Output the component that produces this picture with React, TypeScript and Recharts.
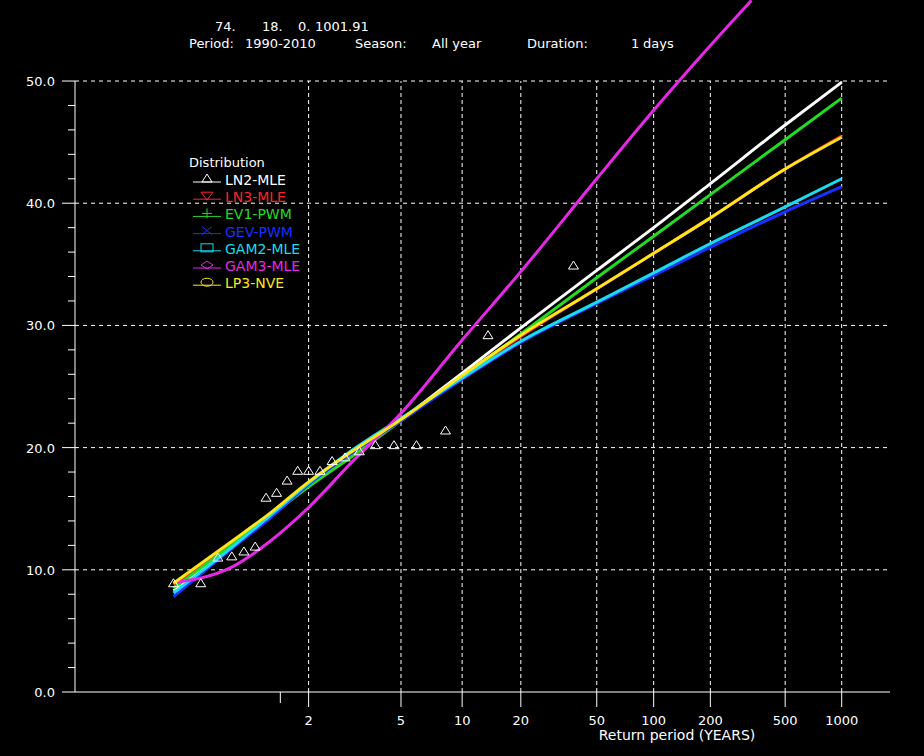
import React from 'react';
import { ComposedChart, Line, Scatter, XAxis, YAxis, ReferenceLine } from 'recharts';

const curvePeriods = [1.027, 1.2, 1.5, 2, 3, 5, 10, 20, 50, 100, 200, 500, 1000];
const ln2Mle = [8.3, 11.9, 14.4, 16.9, 19.6, 22.3, 26.1, 29.8, 34.5, 38.0, 41.6, 46.4, 49.9];
const ln3Mle = [8.8, 12.2, 14.6, 17.0, 19.6, 22.2, 25.8, 29.1, 33.0, 35.9, 38.8, 42.8, 45.5];
const ev1Pwm = [8.5, 12.0, 14.5, 16.8, 19.3, 22.2, 25.8, 29.3, 33.9, 37.3, 40.7, 45.2, 48.6];
const gevPwm = [7.8, 11.7, 14.3, 17.0, 19.6, 22.2, 25.6, 28.6, 31.8, 34.1, 36.4, 39.3, 41.35];
const gam2Mle = [8.1, 11.8, 14.5, 17.1, 19.8, 22.4, 25.7, 28.7, 31.9, 34.3, 36.7, 39.7, 42.0];
const lp3Nve = [8.9, 12.3, 14.7, 17.2, 19.7, 22.3, 25.9, 29.2, 33.0, 35.9, 38.8, 42.8, 45.4];

// GAM3 runs off the top of the picture near T = 330
const gam3Periods = [1.027, 1.2, 1.5, 2, 3, 5, 10, 20, 50, 100, 200, 331];
const gam3Mle = [8.95, 10.2, 12.4, 15.1, 18.85, 22.8, 28.8, 34.4, 42.0, 47.6, 52.9, 56.6];

// observed annual maxima (plotting positions)
const obsPeriods = [1.027, 1.08, 1.138, 1.203, 1.275, 1.357, 1.451, 1.558, 1.682, 1.827, 2.0,
  2.209, 2.467, 2.794, 3.219, 3.799, 4.632, 5.933, 8.25, 13.54, 37.71];
const obsValues = [8.9, 8.9, 11.0, 11.1, 11.5, 11.9, 15.9, 16.3, 17.3, 18.1, 18.1,
  18.1, 18.9, 19.2, 19.7, 20.2, 20.2, 20.2, 21.4, 29.2, 34.9];

const xTickPeriods = [1.6, 2, 5, 10, 20, 50, 100, 200, 500, 1000];
const xTickLabels = ['', '2', '5', '10', '20', '50', '100', '200', '500', '1000'];
const yTicks = [0, 2, 4, 6, 8, 10, 12, 14, 16, 18, 20, 22, 24, 26, 28, 30, 32, 34, 36, 38, 40, 42, 44, 46, 48, 50];
const yGrid = [10, 20, 30, 40, 50];

const FONT = '"DejaVu Sans", sans-serif';

// Gumbel reduced variate -> the probability paper x scale
const gumbel = (T: number) => -Math.log(-Math.log(1 - 1 / T));

const toPoints = (periods: number[], values: number[]) =>
  periods.map((T, i) => ({ x: gumbel(T), y: values[i] }));

const series = [
  { name: 'LN2-MLE', color: '#ffffff', data: toPoints(curvePeriods, ln2Mle), mark: 'tri' },
  { name: 'LN3-MLE', color: '#ff2424', data: toPoints(curvePeriods, ln3Mle), mark: 'itri' },
  { name: 'EV1-PWM', color: '#22dc22', data: toPoints(curvePeriods, ev1Pwm), mark: 'plus' },
  { name: 'GEV-PWM', color: '#1830ff', data: toPoints(curvePeriods, gevPwm), mark: 'cross' },
  { name: 'GAM2-MLE', color: '#18dcf0', data: toPoints(curvePeriods, gam2Mle), mark: 'square' },
  { name: 'GAM3-MLE', color: '#e628e6', data: toPoints(gam3Periods, gam3Mle), mark: 'diamond' },
  { name: 'LP3-NVE', color: '#ffe618', data: toPoints(curvePeriods, lp3Nve), mark: 'circle' },
];

const observed = toPoints(obsPeriods, obsValues);
const xTickValues = xTickPeriods.map(gumbel);

const XTick = (props: any) => {
  const { x, y, index } = props;
  const label = xTickLabels[index];
  return (
    <g>
      <line x1={x} x2={x} y1={y} y2={y + (label ? 15 : 11)} stroke="#fff" />
      {label && (
        <text x={x} y={y + 33} textAnchor="middle" fill="#fff" fontSize={13} fontFamily={FONT}>
          {label}
        </text>
      )}
    </g>
  );
};

const YTick = (props: any) => {
  const { x, y, payload } = props;
  const major = payload.value % 10 === 0;
  return (
    <g>
      <line x1={x - (major ? 13 : 7)} x2={x} y1={y} y2={y} stroke="#fff" />
      {major && (
        <text x={x - 20} y={y + 5} textAnchor="end" fill="#fff" fontSize={13} fontFamily={FONT}>
          {payload.value.toFixed(1)}
        </text>
      )}
    </g>
  );
};

const Triangle = (props: any) => {
  const { cx, cy } = props;
  return (
    <path d={`M${cx},${cy - 4.5} L${cx + 5},${cy + 3.5} L${cx - 5},${cy + 3.5} Z`}
      fill="none" stroke="#fff" strokeWidth={1} />
  );
};

const Marker = ({ kind, x, y, color }: { kind: string; x: number; y: number; color: string }) => {
  const p = { fill: 'none', stroke: color, strokeWidth: 1 };
  switch (kind) {
    case 'tri':
      return <path d={`M${x},${y - 5} L${x + 5},${y + 3} L${x - 5},${y + 3} Z`} {...p} />;
    case 'itri':
      return <path d={`M${x - 6},${y - 4} L${x + 6},${y - 4} L${x},${y + 4} Z`} {...p} />;
    case 'plus':
      return <path d={`M${x - 5},${y} L${x + 5},${y} M${x},${y - 5} L${x},${y + 5}`} {...p} />;
    case 'cross':
      return <path d={`M${x - 5},${y - 4} L${x + 5},${y + 4} M${x - 5},${y + 4} L${x + 5},${y - 4}`} {...p} />;
    case 'square':
      return <rect x={x - 6} y={y - 4} width={12} height={8} {...p} />;
    case 'diamond':
      return <path d={`M${x},${y - 4} L${x + 6},${y} L${x},${y + 4} L${x - 6},${y} Z`} {...p} />;
    default:
      return <ellipse cx={x} cy={y} rx={6} ry={4} {...p} />;
  }
};

const txt = { fill: '#fff', fontSize: 13, fontFamily: FONT };

export default function App() {
  return (
    <div style={{ position: 'absolute', left: 0, top: 0, width: 924, height: 756, background: '#000' }}>
      <ComposedChart width={924} height={756} margin={{ top: 0, right: 34, bottom: 34, left: 0 }}>
        <XAxis type="number" dataKey="x" domain={[-2.5, 7.5]} ticks={xTickValues} interval={0}
          allowDataOverflow height={30} stroke="#fff" tickLine={false} tickSize={0} tickMargin={0}
          tick={<XTick />} />
        <YAxis type="number" dataKey="y" domain={[0, 56.63]} ticks={yTicks} interval={0}
          allowDataOverflow width={75} axisLine={false} tickLine={false} tickSize={0} tickMargin={0}
          tick={<YTick />} />
        {yGrid.map((v) => (
          <ReferenceLine key={'h' + v} y={v} stroke="#fff" strokeDasharray="4 4" />
        ))}
        {xTickValues.slice(1).map((v) => (
          <ReferenceLine key={'v' + v} segment={[{ x: v, y: 0 }, { x: v, y: 50 }]}
            stroke="#fff" strokeDasharray="4 3" />
        ))}
        <ReferenceLine segment={[{ x: -2.5, y: 0 }, { x: -2.5, y: 50 }]} stroke="#fff" />
        <Scatter data={observed} dataKey="y" shape={<Triangle />} isAnimationActive={false} />
        {series.map((s) => (
          <Line key={s.name} data={s.data} dataKey="y" type="monotone" stroke={s.color}
            strokeWidth={3} dot={false} isAnimationActive={false} />
        ))}
      </ComposedChart>
      <svg width={924} height={756} style={{ position: 'absolute', left: 0, top: 0, pointerEvents: 'none' }}>
        <text x={215} y={31} {...txt}>74.</text>
        <text x={262} y={31} {...txt}>18.</text>
        <text x={298} y={31} {...txt}>0.</text>
        <text x={315} y={31} {...txt}>1001.91</text>
        <text x={189} y={48} {...txt}>Period:</text>
        <text x={245} y={48} {...txt}>1990-2010</text>
        <text x={355} y={48} {...txt}>Season:</text>
        <text x={432} y={48} {...txt}>All year</text>
        <text x={527} y={48} {...txt}>Duration:</text>
        <text x={631} y={48} {...txt}>1</text>
        <text x={643} y={48} {...txt}>days</text>
        <text x={677} y={740} textAnchor="middle" {...txt} fontSize={14}>Return period (YEARS)</text>
        <text x={189} y={167} {...txt}>Distribution</text>
        {series.map((s, i) => {
          const base = 185 + i * 17.2;
          return (
            <g key={s.name}>
              <line x1={193} x2={221} y1={base - 3} y2={base - 3} stroke={s.color} strokeWidth={1} />
              <Marker kind={s.mark} x={207} y={base - 6} color={s.color} />
              <text x={225} y={base} fill={s.color} fontSize={14} fontFamily={FONT}>{s.name}</text>
            </g>
          );
        })}
      </svg>
    </div>
  );
}
